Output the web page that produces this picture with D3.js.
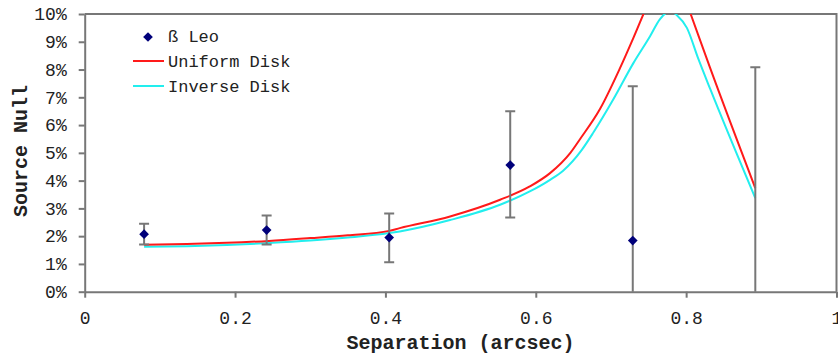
<!DOCTYPE html>
<meta charset="utf-8">
<style>
body { margin: 0; background: #fff; }
text { font-family: "Liberation Mono", "Courier New", monospace; fill: #222; }
.axis path, .axis line { stroke: #777; stroke-width: 2; }
.frame { fill: none; stroke: #777; stroke-width: 2; }
.err { stroke: #777; stroke-width: 2; }
.title { font-weight: bold; font-size: 20px; }
</style>
<body></body>
<script src="https://d3js.org/d3.v7.min.js"></script>
<script>

// observed null (beta Leo) with error bars
var obsSep   = [0.079, 0.242, 0.405, 0.566, 0.729, 0.892];
var obsNull  = [2.07, 2.22, 1.95, 4.56, 1.84, -0.6];
var obsLow   = [1.70, 1.70, 1.06, 2.67, -3.9, -9.3];
var obsHigh  = [2.45, 2.74, 2.82, 6.50, 7.40, 8.08];

// model curves
var uniSep  = [0.079, 0.136, 0.189, 0.245, 0.30, 0.35, 0.405, 0.419, 0.486, 0.5525, 0.592, 0.619, 0.646, 0.659, 0.685, 0.712, 0.730, 0.746, 0.779, 0.806, 0.832, 0.892];
var uniNull = [1.69, 1.72, 1.76, 1.83, 1.93, 2.03, 2.19, 2.29, 2.71, 3.31, 3.79, 4.27, 5.0, 5.5, 6.56, 8.05, 9.15, 10.17, 12.0, 10.0, 8.05, 3.73];
var invSep  = [0.079, 0.136, 0.189, 0.245, 0.30, 0.35, 0.405, 0.419, 0.486, 0.5525, 0.592, 0.619, 0.636, 0.661, 0.677, 0.703, 0.730, 0.752, 0.765, 0.779, 0.788, 0.801, 0.816, 0.832, 0.892];
var invNull = [1.62, 1.64, 1.68, 1.75, 1.84, 1.95, 2.11, 2.17, 2.58, 3.13, 3.61, 4.03, 4.35, 5.1, 5.75, 6.92, 8.24, 9.2, 9.81, 10.1, 9.95, 9.5, 8.4, 7.3, 3.37];

var xTicks = [0, 0.2, 0.4, 0.6, 0.8, 1];
var yTicks = [0, 1, 2, 3, 4, 5, 6, 7, 8, 9, 10];

var width = 838, height = 355;
var margin = {top: 14, right: 1.5, bottom: 63.3, left: 84.7};

var svg = d3.select("body").append("svg")
    .attr("width", width)
    .attr("height", height);

var x = d3.scaleLinear().domain([0, 1]).range([margin.left, width - margin.right]);
var y = d3.scaleLinear().domain([0, 10]).range([height - margin.bottom, margin.top]);

svg.append("defs").append("clipPath").attr("id", "plot")
  .append("rect")
    .attr("x", x(0)).attr("y", y(10))
    .attr("width", x(1) - x(0)).attr("height", y(0) - y(10));

// frame (top + right)
svg.append("path").attr("class", "frame")
    .attr("d", "M" + x(0) + "," + y(10) + "H" + x(1) + "V" + y(0));

var xAxis = svg.append("g").attr("class", "axis")
    .attr("transform", "translate(0," + y(0) + ")")
    .call(d3.axisBottom(x).tickValues(xTicks)
        .tickFormat(function(d) { return d === 0 || d === 1 ? d : d3.format(".1f")(d); })
        .tickSizeInner(6).tickSizeOuter(0).tickPadding(14));
xAxis.selectAll("text").style("font-size", "18px").attr("fill", "#222");

var yAxis = svg.append("g").attr("class", "axis")
    .attr("transform", "translate(" + x(0) + ",0)")
    .call(d3.axisLeft(y).tickValues(yTicks)
        .tickFormat(function(d) { return d + "%"; })
        .tickSizeInner(6).tickSizeOuter(0).tickPadding(12));
yAxis.selectAll("text").style("font-size", "18px").attr("fill", "#222");

var plot = svg.append("g").attr("clip-path", "url(#plot)");

var line = d3.line()
    .x(function(d) { return x(d[0]); })
    .y(function(d) { return y(d[1]); })
    .curve(d3.curveMonotoneX);

plot.append("path")
    .datum(d3.zip(invSep, invNull))
    .attr("fill", "none").attr("stroke", "#22eeee").attr("stroke-width", 2)
    .attr("d", line);

plot.append("path")
    .datum(d3.zip(uniSep, uniNull))
    .attr("fill", "none").attr("stroke", "#ff1a1a").attr("stroke-width", 2)
    .attr("d", line);

var obs = obsSep.map(function(s, i) {
  return {sep: s, val: obsNull[i], lo: obsLow[i], hi: obsHigh[i]};
});

var eg = plot.selectAll(".eb").data(obs).enter().append("g");
eg.append("line").attr("class", "err")
    .attr("x1", function(d) { return x(d.sep); })
    .attr("x2", function(d) { return x(d.sep); })
    .attr("y1", function(d) { return y(d.lo); })
    .attr("y2", function(d) { return y(d.hi); });
eg.append("line").attr("class", "err")
    .attr("x1", function(d) { return x(d.sep) - 5; })
    .attr("x2", function(d) { return x(d.sep) + 5; })
    .attr("y1", function(d) { return y(d.hi); })
    .attr("y2", function(d) { return y(d.hi); });
eg.append("line").attr("class", "err")
    .attr("x1", function(d) { return x(d.sep) - 5; })
    .attr("x2", function(d) { return x(d.sep) + 5; })
    .attr("y1", function(d) { return y(d.lo); })
    .attr("y2", function(d) { return y(d.lo); });

var diamond = d3.symbol().type(d3.symbolDiamond2).size(60);
plot.selectAll(".dot").data(obs).enter().append("path")
    .attr("d", diamond)
    .attr("fill", "#00007a")
    .attr("transform", function(d) { return "translate(" + x(d.sep) + "," + y(d.val) + ")"; });

// legend
var lg = svg.append("g").style("font-size", "17px");
lg.append("path").attr("d", diamond).attr("fill", "#00007a").attr("transform", "translate(148,37)");
lg.append("text").attr("x", 168).attr("y", 42).text("ß Leo");
lg.append("line").attr("x1", 133).attr("x2", 164).attr("y1", 61).attr("y2", 61)
    .attr("stroke", "#ff1a1a").attr("stroke-width", 2);
lg.append("text").attr("x", 168).attr("y", 67).text("Uniform Disk");
lg.append("line").attr("x1", 133).attr("x2", 164).attr("y1", 86).attr("y2", 86)
    .attr("stroke", "#22eeee").attr("stroke-width", 2);
lg.append("text").attr("x", 168).attr("y", 92).text("Inverse Disk");

// axis titles
svg.append("text").attr("class", "title")
    .attr("x", (x(0) + x(1)) / 2).attr("y", 349)
    .attr("text-anchor", "middle")
    .text("Separation (arcsec)");
svg.append("text").attr("class", "title")
    .attr("transform", "translate(27,151) rotate(-90)")
    .attr("text-anchor", "middle")
    .text("Source Null");

</script>
